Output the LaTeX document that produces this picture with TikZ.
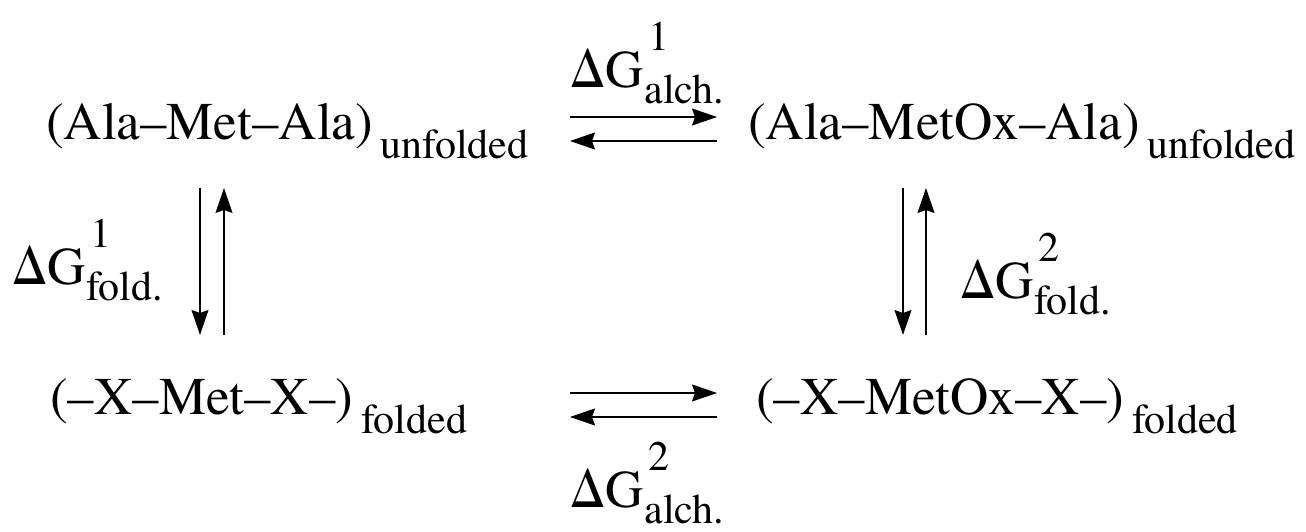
\documentclass[tikz,border=0pt]{standalone}
\usepackage{fontspec}
\setmainfont{TeX Gyre Termes}
\usetikzlibrary{arrows.meta}

% text sizes: species names and their state subscripts
\newcommand{\bigtxt}{\fontsize{53}{62}\selectfont}
\newcommand{\smalltxt}{\fontsize{42}{50}\selectfont}
% species with a lowered state label
\newcommand{\species}[2]{#1\kern8pt\raisebox{-19pt}{\smalltxt #2}}
% free energy with stacked superscript and subscript
\newcommand{\dG}[2]{ΔG\kern1pt\rlap{\raisebox{37pt}{\smalltxt\kern4pt #1}}\raisebox{-16pt}{\smalltxt #2}}

\tikzset{
  lbl/.style={inner sep=0pt, anchor=base west, font=\bigtxt},
  rx/.style={line width=1.3pt, -{Stealth[length=25pt, width=17pt, inset=3pt]}}
}

\begin{document}
\begin{tikzpicture}[x=1pt, y=1pt]
\useasboundingbox (0,0) rectangle (1306,531);

% the four states
\node[lbl] (amaU) at (46,391) {\species{(Ala–Met–Ala)}{unfolded}};
\node[lbl] (amoU) at (748,391) {\species{(Ala–MetOx–Ala)}{unfolded}};
\node[lbl] (xmxF) at (50,117) {\species{(–X–Met–X–)}{folded}};
\node[lbl] (xmoF) at (756,117) {\species{(–X–MetOx–X–)}{folded}};

% free energy labels
\node[lbl] (gA1) at (570,443) {\dG{1}{alch.}};
\node[lbl] (gA2) at (570,24) {\dG{2}{alch.}};
\node[lbl] (gF1) at (12,247) {\dG{1}{fold.}};
\node[lbl] (gF2) at (960,233) {\dG{2}{fold.}};

% arrow end points
\coordinate (t1) at (570,414); \coordinate (t2) at (717,414);
\coordinate (t3) at (717,390); \coordinate (t4) at (570,390);
\coordinate (b1) at (570,138); \coordinate (b2) at (717,138);
\coordinate (b3) at (717,114); \coordinate (b4) at (570,114);
\coordinate (l1) at (200,343); \coordinate (l2) at (200,196);
\coordinate (l3) at (224,196); \coordinate (l4) at (224,343);
\coordinate (r1) at (903,343); \coordinate (r2) at (903,196);
\coordinate (r3) at (926,196); \coordinate (r4) at (926,343);

% equilibrium arrows
\draw[rx] (t1) -- (t2);
\draw[rx] (t3) -- (t4);
\draw[rx] (b1) -- (b2);
\draw[rx] (b3) -- (b4);
\draw[rx] (l1) -- (l2);
\draw[rx] (l3) -- (l4);
\draw[rx] (r1) -- (r2);
\draw[rx] (r3) -- (r4);
\end{tikzpicture}
\end{document}
